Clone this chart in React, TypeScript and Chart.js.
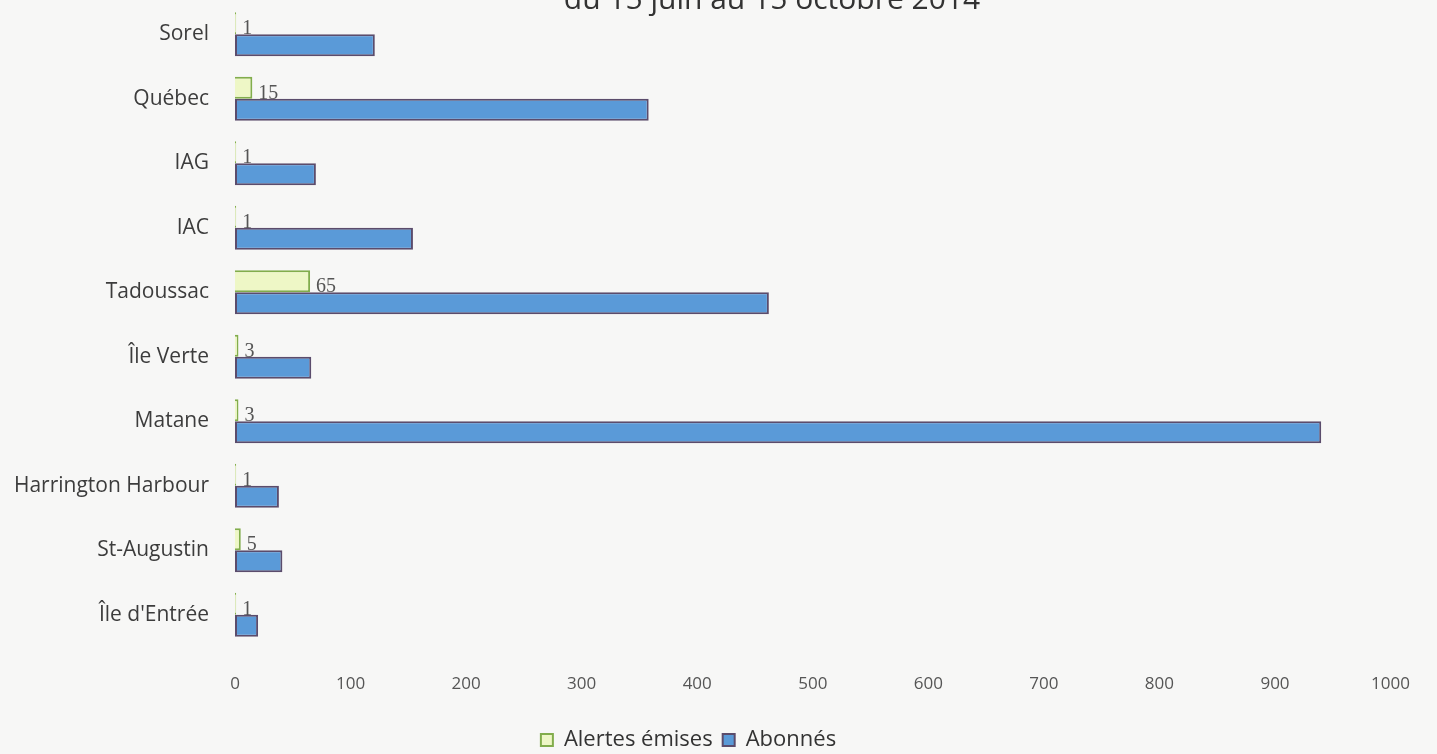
import React, { useEffect, useRef } from 'react';
import { Chart, registerables } from 'chart.js';

Chart.register(...registerables);

// Stations, top to bottom
const categories = [
  'Sorel',
  'Québec',
  'IAG',
  'IAC',
  'Tadoussac',
  'Île Verte',
  'Matane',
  'Harrington Harbour',
  'St-Augustin',
  "Île d'Entrée",
];

// Alerts sent per station
const alertes = [1, 15, 1, 1, 65, 3, 3, 1, 5, 1];

// Subscribers per station
const abonnes = [121, 358, 70, 154, 462, 66, 940, 38, 41, 20];

const xMin = 0;
const xMax = 1000;
const xStep = 100;

const titleText = 'du 15 juin au 15 octobre 2014';
const seriesNames = ['Alertes émises', 'Abonnés'];

// Writes the alert count just after the end of each green bar
const alertValueLabels = {
  id: 'alertValueLabels',
  afterDatasetsDraw(chart: any) {
    const ctx = chart.ctx;
    const meta = chart.getDatasetMeta(0);
    ctx.save();
    ctx.font = '20px "Liberation Serif", "DejaVu Serif", serif';
    ctx.fillStyle = '#555555';
    ctx.textAlign = 'left';
    ctx.textBaseline = 'alphabetic';
    meta.data.forEach((bar: any, i: number) => {
      const p = bar.getProps(['x', 'y', 'height'], true);
      ctx.fillText(String(alertes[i]), p.x + 6, p.y + p.height / 2);
    });
    ctx.restore();
  },
};

// Nudges the legend row a little to the left of the canvas centre
const legendShift = {
  id: 'legendShift',
  afterLayout(chart: any) {
    if (chart.legend) chart.legend.right -= 24;
  },
};

export default function App() {
  const canvasRef = useRef<HTMLCanvasElement | null>(null);

  useEffect(() => {
    if (!canvasRef.current) return;
    Chart.defaults.font.family = "'Open Sans', 'DejaVu Sans', sans-serif";
    const chart = new Chart(canvasRef.current, {
      type: 'bar',
      data: {
        labels: categories,
        datasets: [
          {
            label: seriesNames[0],
            data: alertes,
            backgroundColor: '#eef7c6',
            borderColor: '#82ad4c',
            borderWidth: 2,
            categoryPercentage: 0.68,
            barPercentage: 1,
          },
          {
            label: seriesNames[1],
            data: abonnes,
            backgroundColor: '#5a9ad8',
            borderColor: '#5b4c6c',
            borderWidth: 2,
            borderSkipped: false,
            categoryPercentage: 0.68,
            barPercentage: 1,
          },
        ],
      },
      options: {
        indexAxis: 'y',
        animation: false,
        responsive: false,
        maintainAspectRatio: false,
        layout: { padding: { top: 2, right: 36, bottom: -7, left: 0 } },
        scales: {
          x: {
            min: xMin,
            max: xMax,
            grid: { display: false, drawTicks: false },
            border: { display: false },
            ticks: {
              stepSize: xStep,
              padding: 27,
              color: '#555555',
              font: { size: 17 },
              maxRotation: 0,
              callback: (v: any) => String(v),
            },
            afterFit: (s: any) => {
              s.height = 72;
              s.paddingTop = 0;
              s.paddingBottom = 0;
            },
          },
          y: {
            grid: { display: false, drawTicks: false },
            border: { display: false },
            ticks: {
              padding: 26,
              color: '#3c3c3c',
              font: { size: 21 },
              autoSkip: false,
            },
            afterFit: (s: any) => {
              s.width = 235;
              s.paddingTop = 0;
              s.paddingBottom = 0;
            },
          },
        },
        plugins: {
          legend: {
            position: 'bottom',
            labels: {
              font: { size: 22 },
              color: '#333333',
              boxWidth: 12,
              boxHeight: 12,
              padding: 10,
            },
          },
          tooltip: { enabled: false },
          title: { display: false },
        },
      },
      plugins: [alertValueLabels, legendShift],
    });
    return () => chart.destroy();
  }, []);

  return (
    <div
      style={{
        position: 'absolute',
        left: 0,
        top: 0,
        width: 1437,
        height: 754,
        overflow: 'hidden',
        background: '#f7f7f6',
      }}
    >
      <canvas ref={canvasRef} width={1437} height={754} style={{ position: 'absolute', left: 0, top: 0 }} />
      <div
        style={{
          position: 'absolute',
          left: 772,
          top: -17,
          transform: 'translateX(-50%)',
          whiteSpace: 'nowrap',
          fontFamily: "'Open Sans', sans-serif",
          fontSize: 30,
          lineHeight: '30px',
          color: '#333333',
        }}
      >
        {titleText}
      </div>
    </div>
  );
}
